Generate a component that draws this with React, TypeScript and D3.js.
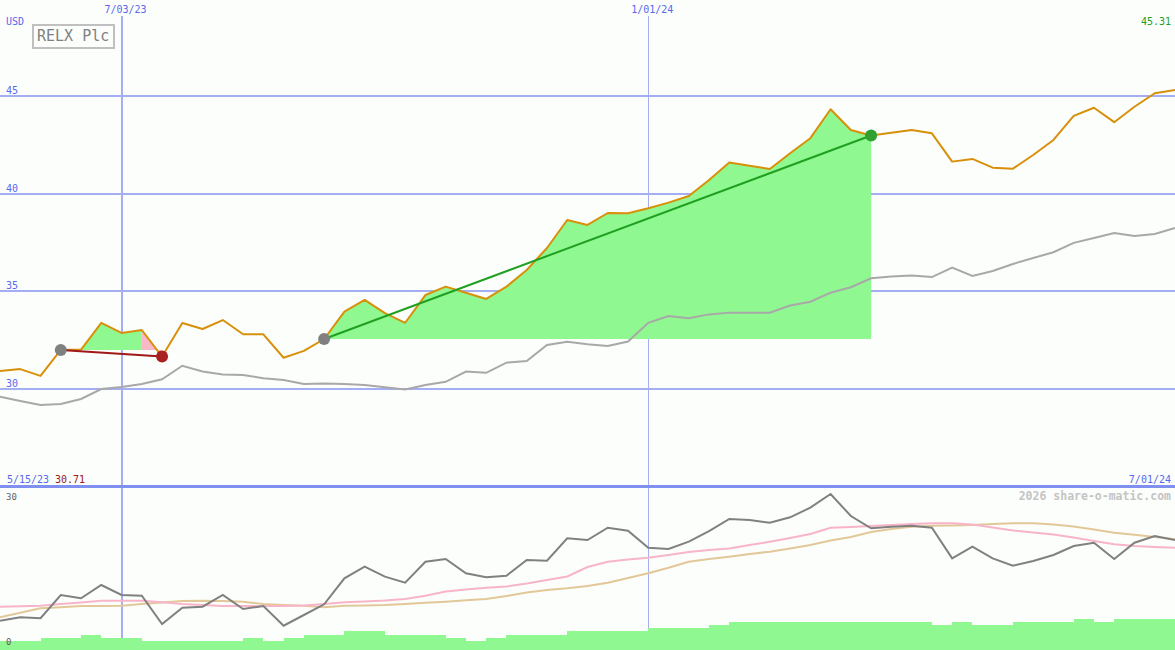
import React from 'react';
import * as d3 from 'd3';

// Weekly dates (Mondays)
const DATES = [
  '2023-05-22','2023-05-29','2023-06-05','2023-06-12','2023-06-19','2023-06-26','2023-07-03','2023-07-10','2023-07-17','2023-07-24',
  '2023-07-31','2023-08-07','2023-08-14','2023-08-21','2023-08-28','2023-09-04','2023-09-11','2023-09-18','2023-09-25','2023-10-02',
  '2023-10-09','2023-10-16','2023-10-23','2023-10-30','2023-11-06','2023-11-13','2023-11-20','2023-11-27','2023-12-04','2023-12-11',
  '2023-12-18','2023-12-25','2024-01-01','2024-01-08','2024-01-15','2024-01-22','2024-01-29','2024-02-05','2024-02-12','2024-02-19',
  '2024-02-26','2024-03-04','2024-03-11','2024-03-18','2024-03-25','2024-04-01','2024-04-08','2024-04-15','2024-04-22','2024-04-29',
  '2024-05-06','2024-05-13','2024-05-20','2024-05-27','2024-06-03','2024-06-10','2024-06-17','2024-06-24','2024-07-01',
];

// Share price (USD)
const PRICE = [
  30.92, 31.02, 30.67, 32.0, 32.02, 33.38, 32.87, 33.02, 31.66, 33.38,
  33.07, 33.53, 32.8, 32.8, 31.6, 31.95, 32.56, 33.96, 34.56, 33.88,
  33.39, 34.81, 35.24, 34.93, 34.61, 35.24, 36.09, 37.22, 38.65, 38.4,
  39.01, 39.0, 39.25, 39.54, 39.88, 40.7, 41.59, 41.43, 41.26, 42.07,
  42.84, 44.32, 43.26, 42.98, 43.12, 43.26, 43.09, 41.64, 41.78, 41.33,
  41.28, 41.98, 42.75, 43.98, 44.4, 43.66, 44.45, 45.14, 45.31,
];

// Long moving average (grey, price panel)
const AVERAGE = [
  29.61, 29.39, 29.18, 29.23, 29.49, 30.0, 30.1, 30.26, 30.5, 31.19,
  30.9, 30.74, 30.72, 30.55, 30.46, 30.26, 30.28, 30.26, 30.2, 30.09,
  29.98, 30.2, 30.37, 30.89, 30.83, 31.35, 31.43, 32.25, 32.42, 32.29,
  32.2, 32.43, 33.39, 33.74, 33.62, 33.82, 33.91, 33.91, 33.91, 34.27,
  34.47, 34.93, 35.21, 35.67, 35.76, 35.81, 35.73, 36.22, 35.79, 36.04,
  36.4, 36.71, 37.0, 37.48, 37.73, 37.99, 37.83, 37.94, 38.24,
];

// Lower panel indicator (dark grey)
const INDICATOR = [
  5.63, 6.29, 6.1, 10.58, 9.94, 12.5, 10.58, 10.44, 5.0, 8.13,
  8.33, 10.58, 7.88, 8.46, 4.67, 6.73, 8.79, 13.79, 16.02, 14.1,
  12.94, 16.98, 17.5, 14.75, 13.98, 14.29, 17.31, 17.17, 21.48, 21.15,
  23.52, 22.94, 19.67, 19.42, 20.83, 22.88, 25.19, 25.0, 24.48, 25.52,
  27.37, 30.0, 25.77, 23.4, 23.71, 23.9, 23.52, 17.63, 19.87, 17.63,
  16.21, 17.12, 18.27, 20.0, 20.63, 17.5, 20.63, 21.92, 21.15,
];

// Lower panel fast average (pink)
const FAST_AVG = [
  8.33, 8.42, 8.52, 8.85, 9.13, 9.48, 9.48, 9.48, 9.17, 8.85,
  8.65, 8.46, 8.46, 8.46, 8.46, 8.56, 8.85, 9.17, 9.33, 9.52,
  9.81, 10.44, 11.25, 11.63, 11.98, 12.21, 12.79, 13.46, 14.13, 15.96,
  16.98, 17.4, 17.75, 18.27, 18.85, 19.23, 19.52, 20.19, 20.83, 21.54,
  22.31, 23.52, 23.65, 23.85, 24.04, 24.23, 24.37, 24.37, 24.13, 23.56,
  22.98, 22.6, 22.21, 21.63, 20.96, 20.33, 20.0, 19.81, 19.67,
];

// Lower panel slow average (tan)
const SLOW_AVG = [
  6.29, 7.17, 8.02, 8.21, 8.46, 8.46, 8.52, 8.85, 9.13, 9.42,
  9.48, 9.42, 9.29, 8.85, 8.65, 8.52, 8.21, 8.52, 8.56, 8.65,
  8.85, 9.1, 9.29, 9.56, 9.81, 10.38, 11.06, 11.54, 11.87, 12.31,
  12.94, 13.85, 14.75, 15.83, 16.98, 17.5, 17.94, 18.46, 18.9, 19.52,
  20.19, 21.06, 21.73, 22.69, 23.27, 23.71, 23.88, 23.94, 24.04, 24.23,
  24.37, 24.37, 24.13, 23.75, 23.17, 22.56, 22.17, 21.73, 21.29,
];

// Weekly volume (arbitrary units), one bar per week
const VOLUME = [
  1.7, 1.7, 2.4, 2.4, 2.9, 2.4, 2.4, 1.7, 1.7, 1.7,
  1.7, 1.7, 2.4, 1.7, 2.4, 2.9, 2.9, 3.65, 3.65, 2.9,
  2.9, 2.9, 2.4, 1.7, 2.4, 2.9, 2.9, 2.9, 3.65, 3.65,
  3.65, 3.65, 4.3, 4.3, 4.3, 4.8, 5.3, 5.3, 5.3, 5.3,
  5.3, 5.3, 5.3, 5.3, 5.3, 5.3, 4.8, 5.3, 4.8, 4.8,
  5.3, 5.3, 5.3, 5.9, 5.3, 5.9, 5.9, 5.9,
];

const PRICE_TICKS = [30, 35, 40, 45];
const LOWER_TICKS = [0, 30];
const DATE_TICKS = ['2023-07-03', '2024-01-01'];
const DATE_TICK_LABELS = ['7/03/23', '1/01/24'];
const TRADE_ENTRY = ['2023-06-12', '2023-09-11'];
const TRADE_EXIT = ['2023-07-17', '2024-03-18'];

const W = 1175;
const H = 650;
const FONT = '"DejaVu Sans Mono", monospace';
const BLUE = '#5868f0';
const GRID = '#a4aef2';
const GREEN_FILL = '#90f890';
const PINK_FILL = '#f8b8c8';

export default function App() {
  const parse = d3.utcParse('%Y-%m-%d');
  const dates = DATES.map((d) => parse(d) as Date);
  const x = d3.scaleUtc().domain([dates[0], dates[dates.length - 1]]).range([0, W]);
  const y = d3.scaleLinear().domain([30, 45]).range([389, 96]);
  const yLow = d3.scaleLinear().domain([0, 30]).range([650, 494]);
  const yVol = d3.scaleLinear().domain([0, 10]).range([650, 598]);
  const idx = d3.range(dates.length);

  const line = (vals: number[], ys: d3.ScaleLinear<number, number>) =>
    d3.line<number>().x((i) => x(dates[i])).y((i) => ys(vals[i]))(idx) || '';

  const trades = TRADE_ENTRY.map((e, k) => {
    const a = DATES.indexOf(e);
    const b = DATES.indexOf(TRADE_EXIT[k]);
    const base = PRICE[a];
    const win = PRICE[b] >= base;
    const area = d3
      .area<number>()
      .x((i) => x(dates[i]))
      .y0(y(base))
      .y1((i) => y(PRICE[i]));
    const greenIdx = win ? d3.range(a, b + 1) : d3.range(a + 1, b);
    const pinkIdx = win ? [] : [b - 1, b];
    const pinkStart = win ? [] : [a, a + 1];
    return { a, b, base, win, green: area(greenIdx) || '', pink: pinkIdx.length ? area(pinkIdx) || '' : '', pink0: pinkStart.length ? area(pinkStart) || '' : '' };
  });

  return (
    <svg
      width={W}
      height={H}
      style={{ position: 'absolute', left: 0, top: 0, display: 'block' }}
      fontFamily={FONT}
    >
      <rect x={0} y={0} width={W} height={H} fill="#fcfefc" />

      {/* horizontal price gridlines */}
      {PRICE_TICKS.map((t) => (
        <rect key={'h' + t} x={0} y={Math.round(y(t)) - 1} width={W} height={2} fill={GRID} shapeRendering="crispEdges" />
      ))}
      {/* vertical date gridlines */}
      {DATE_TICKS.map((d, k) => {
        const xx = Math.round(x(parse(d) as Date));
        const w = k === 0 ? 2 : 1;
        return <rect key={'v' + d} x={xx - (w === 2 ? 1 : 0)} y={16} width={w} height={H - 16} fill={GRID} shapeRendering="crispEdges" />;
      })}

      {/* trade fills */}
      {trades.map((t, k) => (
        <g key={'tf' + k}>
          {t.pink0 && <path d={t.pink0} fill={PINK_FILL} />}
          <path d={t.green} fill={GREEN_FILL} />
          {t.pink && <path d={t.pink} fill={PINK_FILL} />}
        </g>
      ))}

      {/* price panel lines */}
      <path d={line(AVERAGE, y)} fill="none" stroke="#a8a8a8" strokeWidth={2} />
      <path d={line(PRICE, y)} fill="none" stroke="#d8900a" strokeWidth={2} strokeLinejoin="round" />

      {/* trade lines and markers */}
      {trades.map((t, k) => (
        <g key={'tl' + k}>
          <line
            x1={x(dates[t.a])}
            y1={y(PRICE[t.a])}
            x2={x(dates[t.b])}
            y2={y(PRICE[t.b])}
            stroke={t.win ? '#20a020' : '#a01818'}
            strokeWidth={2}
          />
          <circle cx={x(dates[t.a])} cy={y(PRICE[t.a])} r={6} fill="#808080" />
          <circle cx={x(dates[t.b])} cy={y(PRICE[t.b])} r={6} fill={t.win ? '#30a030' : '#a82020'} />
        </g>
      ))}

      {/* panel separator */}
      <rect x={0} y={485} width={W} height={3} fill="#8090f0" shapeRendering="crispEdges" />

      {/* volume bars */}
      {VOLUME.map((v, i) => {
        const x0 = Math.round(x(dates[i]));
        const x1 = Math.round(x(dates[i + 1]));
        const yy = Math.round(yVol(v));
        return <rect key={'vb' + i} x={x0} y={yy} width={x1 - x0} height={650 - yy} fill={GREEN_FILL} shapeRendering="crispEdges" />;
      })}

      {/* lower panel lines */}
      <path d={line(SLOW_AVG, yLow)} fill="none" stroke="#e2c898" strokeWidth={2} />
      <path d={line(FAST_AVG, yLow)} fill="none" stroke="#f8b4c8" strokeWidth={2} />
      <path d={line(INDICATOR, yLow)} fill="none" stroke="#808080" strokeWidth={2} />

      {/* texts */}
      <text x={6} y={25} fontSize={10} fill={BLUE}>USD</text>
      {PRICE_TICKS.map((t) => (
        <text key={'pl' + t} x={6} y={Math.round(y(t)) - 2} fontSize={10} fill={BLUE}>
          {t}
        </text>
      ))}
      {DATE_TICKS.map((d, k) => (
        <text key={'dl' + d} x={x(parse(d) as Date) + 4} y={13} fontSize={10} fill={BLUE} textAnchor="middle">
          {DATE_TICK_LABELS[k]}
        </text>
      ))}
      <text x={1171} y={25} fontSize={10} fill="#20a020" textAnchor="end">
        {PRICE[PRICE.length - 1].toFixed(2)}
      </text>

      <rect x={33} y={25} width={81} height={23} fill="none" stroke="#c0c0c0" strokeWidth={2} />
      <text x={37} y={41} fontSize={15} fill="#808080">RELX Plc</text>

      <text x={7} y={483} fontSize={10} fill={BLUE}>5/15/23</text>
      <text x={55} y={483} fontSize={10} fill="#a01818">30.71</text>
      <text x={1171} y={483} fontSize={10} fill={BLUE} textAnchor="end">7/01/24</text>

      <text x={1171} y={500} fontSize={11.5} fontWeight="bold" fill="#c4c4c4" textAnchor="end">
        2026 share-o-matic.com
      </text>
      {LOWER_TICKS.map((t) => (
        <text key={'ll' + t} x={6} y={t === 0 ? 645 : 500} fontSize={9} fill="#606060">
          {t}
        </text>
      ))}
    </svg>
  );
}
